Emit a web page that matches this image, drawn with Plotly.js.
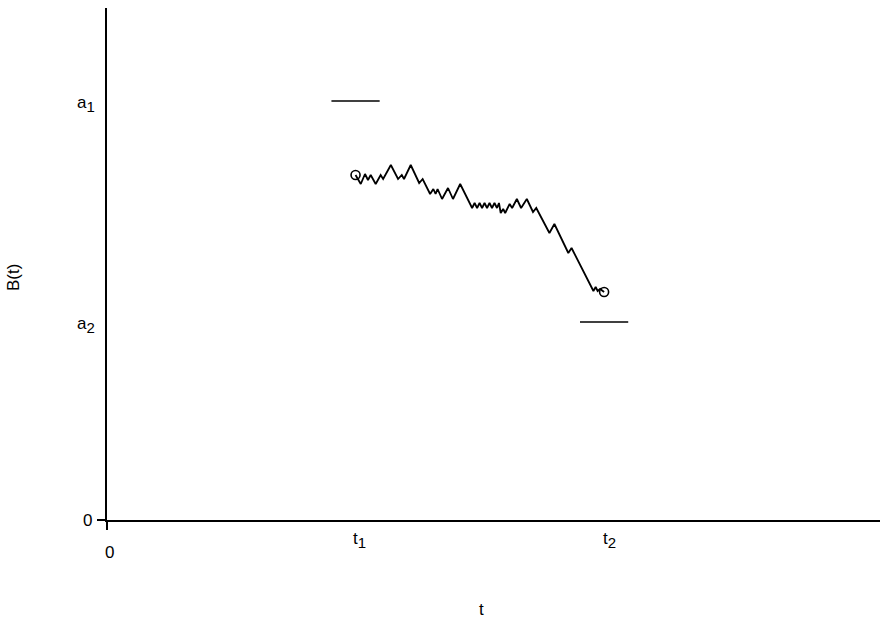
<!DOCTYPE html>
<html>
<head>
<meta charset="utf-8">
<script src="https://cdn.plot.ly/plotly-3.0.1.min.js"></script>
<style>
  html, body { margin: 0; padding: 0; background: #fff; }
  #chart { width: 880px; height: 619px; }
</style>
</head>
<body>
<div id="chart"></div>
<script>
// Sample path of B(t) between the two times t1 and t2
const pathT = [1.000, 1.021, 1.038, 1.050, 1.061, 1.081, 1.101, 1.111, 1.142, 1.171,
               1.186, 1.195, 1.222, 1.256, 1.270, 1.300, 1.313, 1.322, 1.330, 1.348,
               1.372, 1.392, 1.421, 1.469, 1.479, 1.489, 1.499, 1.509, 1.519, 1.529,
               1.539, 1.549, 1.559, 1.569, 1.577, 1.584, 1.594, 1.602, 1.620, 1.630,
               1.649, 1.666, 1.689, 1.714, 1.727, 1.780, 1.800, 1.856, 1.869, 1.957,
               1.966, 1.974, 1.984, 2.000];
const pathB = [3.45, 3.36, 3.46, 3.40, 3.45, 3.36, 3.45, 3.41, 3.55, 3.41,
               3.45, 3.41, 3.55, 3.37, 3.41, 3.26, 3.31, 3.26, 3.31, 3.21,
               3.32, 3.21, 3.36, 3.12, 3.17, 3.12, 3.17, 3.12, 3.17, 3.12,
               3.17, 3.12, 3.17, 3.12, 3.17, 3.07, 3.11, 3.07, 3.16, 3.12,
               3.21, 3.12, 3.21, 3.08, 3.12, 2.87, 2.96, 2.67, 2.72, 2.29,
               2.33, 2.29, 2.31, 2.28];

// Times and barrier levels
const t1 = 1.0;
const t2 = 2.0;
const a1 = 4.19;
const a2 = 1.98;

// Tick labels
const sub = d => '<sub><span style="font-size:15px">' + d + '</span></sub>';
const xTickVals = [0, t1, t2];
const xTickText = ['0', 't' + sub('1'), 't' + sub('2')];
const yTickVals = [0, a1, a2];
const yTickText = ['0', 'a' + sub('1'), 'a' + sub('2')];
const xTitle = 't';
const yTitle = 'B(t)';

const halfBar = 0.097;
const FONT = 'Liberation Sans, Arial, Helvetica, sans-serif';
const ink = '#000';
const textFont = { family: FONT, size: 17, color: ink };

const traces = [
  { // level a1 around t1
    x: [t1 - halfBar, t1 + halfBar], y: [a1, a1],
    mode: 'lines', line: { color: ink, width: 1.6 }, hoverinfo: 'skip'
  },
  { // level a2 around t2
    x: [t2 - halfBar, t2 + halfBar], y: [a2, a2],
    mode: 'lines', line: { color: ink, width: 1.6 }, hoverinfo: 'skip'
  },
  { // the path
    x: pathT, y: pathB,
    mode: 'lines', line: { color: ink, width: 1.8 }, hoverinfo: 'skip'
  },
  { // start and end points
    x: [pathT[0], pathT[pathT.length - 1]],
    y: [pathB[0], pathB[pathB.length - 1]],
    mode: 'markers',
    marker: { symbol: 'circle-open', size: 9, color: ink, line: { width: 1.6, color: ink } },
    hoverinfo: 'skip'
  }
];

const annotations = [];
// labels on the vertical axis
yTickVals.forEach((v, i) => {
  annotations.push({
    xref: 'paper', yref: 'y', x: 0, y: v,
    xanchor: 'right', yanchor: 'middle',
    xshift: i === 0 ? -13 : -10, yshift: i === 0 ? 0 : -3,
    text: yTickText[i], showarrow: false, font: textFont
  });
});
// labels on the time axis
xTickVals.forEach((v, i) => {
  annotations.push({
    xref: 'x', yref: 'paper', x: v, y: 0,
    xanchor: 'center', yanchor: 'top',
    xshift: i === 0 ? 2 : (i === 1 ? 4 : 5), yshift: i === 0 ? -21 : -7,
    text: xTickText[i], showarrow: false, font: textFont
  });
});
// axis titles
annotations.push({
  xref: 'paper', yref: 'paper', x: (481 - 107) / 773, y: -89 / 512,
  xanchor: 'center', yanchor: 'middle',
  text: xTitle, showarrow: false, font: textFont
});
annotations.push({
  xref: 'paper', yref: 'paper', x: -94 / 773, y: (520 - 278) / 512,
  xanchor: 'center', yanchor: 'middle', textangle: -90,
  text: yTitle, showarrow: false, font: textFont
});

const layout = {
  width: 880, height: 619,
  margin: { l: 107, r: 0, t: 8, b: 99, pad: 0 },
  paper_bgcolor: '#fff', plot_bgcolor: '#fff',
  showlegend: false,
  font: textFont,
  xaxis: {
    range: [0, 3.11], showgrid: false, zeroline: false,
    showline: true, linecolor: ink, linewidth: 1.6,
    tickvals: [0], ticks: 'outside', ticklen: 8, tickwidth: 1.6, tickcolor: ink,
    showticklabels: false, fixedrange: true
  },
  yaxis: {
    range: [0, 5.12], showgrid: false, zeroline: false,
    showline: true, linecolor: ink, linewidth: 1.6,
    tickvals: [0], ticks: 'outside', ticklen: 8, tickwidth: 1.6, tickcolor: ink,
    showticklabels: false, fixedrange: true
  },
  annotations: annotations
};

Plotly.newPlot('chart', traces, layout, { displayModeBar: false });
</script>
</body>
</html>
